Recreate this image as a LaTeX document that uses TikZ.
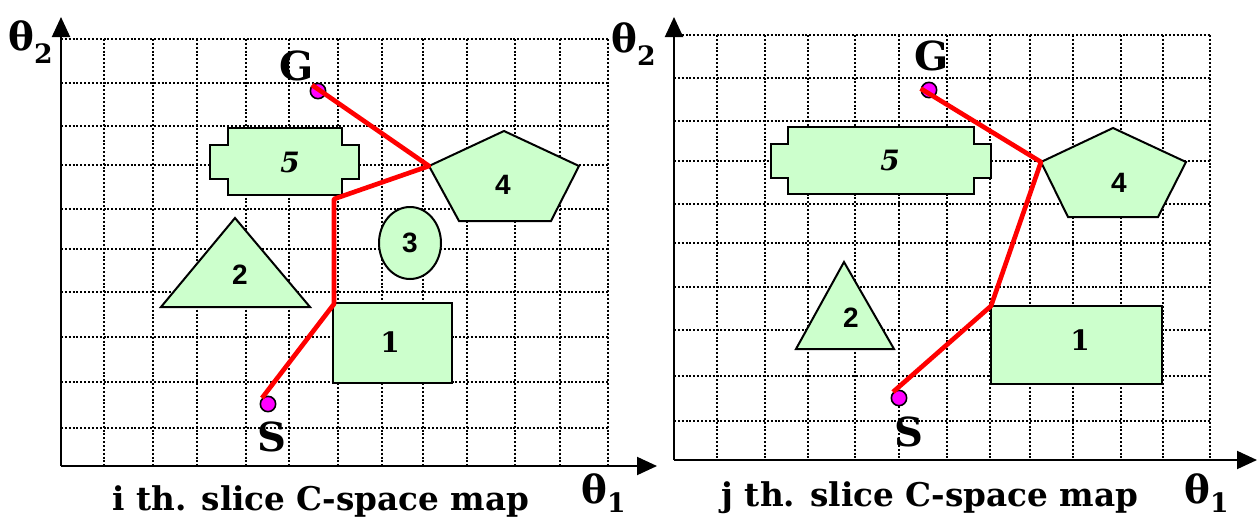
\documentclass[tikz,border=0pt]{standalone}
\usepackage{fontspec}
\setmainfont{DejaVu Serif}
\newfontfamily\sansb{Liberation Sans}
\usetikzlibrary{arrows.meta}
\definecolor{obgreen}{RGB}{204,255,204}
\definecolor{dotmag}{RGB}{255,0,255}
\newcommand{\thlab}[2]{{\fontsize{29}{29}\selectfont\bfseries θ}{\fontsize{20}{20}\selectfont\bfseries\raisebox{-#2}{#1}}}
\begin{document}
\begin{tikzpicture}[x=0.75pt,y=-0.75pt,
  gridline/.style={line width=1.7pt, dash pattern=on 1.5pt off 1.4pt},
  axisline/.style={line width=1.5pt, -{Triangle[length=15pt,width=13.5pt]}},
  obst/.style={draw=black, fill=obgreen, line width=1.5pt, line join=miter},
  redpath/.style={draw=red, line width=3.5pt, line join=round},
  pdot/.style={circle, draw=black, fill=dotmag, line width=1.2pt, minimum size=11.5pt, inner sep=0pt},
  numsans/.style={inner sep=0pt, font=\sansb\bfseries\fontsize{21}{21}\selectfont},
  numser/.style={inner sep=0pt, font=\bfseries\fontsize{21}{21}\selectfont},
  numit/.style={inner sep=0pt, font=\bfseries\itshape\fontsize{21}{21}\selectfont},
  gslab/.style={inner sep=0pt, anchor=base, font=\bfseries\fontsize{30}{30}\selectfont},
  caption/.style={inner sep=0pt, anchor=base, font=\bfseries\fontsize{24.5}{24.5}\selectfont},
  axlab/.style={inner sep=0pt, anchor=base west}]
\useasboundingbox (0,0) rectangle (1258,518);

% ---------------- left panel grid ----------------
\foreach \x in {104,153,197,246,289,338,382,423,467,515,560,608}
  \draw[gridline] (\x,39) -- (\x,466);
\foreach \y in {39,83,126,165,209,249,292,337,382,428}
  \draw[gridline] (61,\y) -- (608,\y);
\coordinate (oL) at (61,466);
\coordinate (yL) at (61,17);
\coordinate (xL) at (657,466);
\draw[axisline] (oL) -- (yL);
\draw[axisline] (oL) -- (xL);

% ---------------- right panel grid ----------------
\foreach \x in {717,765,808,855,899,947,990,1030,1073,1121,1163,1210}
  \draw[gridline] (\x,35) -- (\x,460);
\foreach \y in {35,78,121,161,204,243,287,330,376,421}
  \draw[gridline] (674,\y) -- (1210,\y);
\coordinate (oR) at (674,460);
\coordinate (yR) at (674,17);
\coordinate (xR) at (1257,460);
\draw[axisline] (oR) -- (yR);
\draw[axisline] (oR) -- (xR);

% ---------------- left obstacles ----------------
\draw[obst] (228,128) -- (342,128) -- (342,145) -- (359,145) -- (359,179) -- (342,179) -- (342,195) -- (228,195) -- (228,179) -- (210,179) -- (210,145) -- (228,145) -- cycle;
\node[numit] (n5L) at (290,162) {5};
\draw[obst] (235,218) -- (310,307) -- (161,307) -- cycle;
\node[numsans] (n2L) at (240,275) {2};
\draw[obst] (410,243) ellipse [x radius=31, y radius=36];
\node[numsans] (n3L) at (410,243) {3};
\coordinate (p4L) at (429,166);
\draw[obst] (504,131) -- (579,166) -- (551,221) -- (459,221) -- (p4L) -- cycle;
\node[numsans] (n4L) at (503,185) {4};
\draw[obst] (333,303) rectangle (452,383);
\node[numser] (n1L) at (390,342) {1};

% ---------------- right obstacles ----------------
\draw[obst] (788,127) -- (974,127) -- (974,144) -- (991,144) -- (991,178) -- (974,178) -- (974,194) -- (788,194) -- (788,178) -- (771,178) -- (771,144) -- (788,144) -- cycle;
\node[numit] (n5R) at (890,160) {5};
\draw[obst] (844,262) -- (894,349) -- (796,349) -- cycle;
\node[numsans] (n2R) at (851,318) {2};
\coordinate (p4R) at (1041,162);
\draw[obst] (1113,128) -- (1186,162) -- (1158,217) -- (1068,217) -- (p4R) -- cycle;
\node[numsans] (n4R) at (1119,183) {4};
\coordinate (r1R) at (991,306);
\draw[obst] (r1R) rectangle (1162,384);
\node[numser] (n1R) at (1080,340) {1};

% ---------------- start / goal ----------------
\node[pdot] (gL) at (318,91) {};
\node[pdot] (sL) at (268,404) {};
\node[pdot] (gR) at (929,90) {};
\node[pdot] (sR) at (899,398) {};

\coordinate (wL1) at (334,199);
\coordinate (wL2) at (334,304);
\draw[redpath] (gL.north west) -- (p4L) -- (wL1) -- (wL2) -- (sL.north west);
\draw[redpath] (gR.170) -- (p4R) -- (r1R) -- (sR.north west);

\node[gslab] (GL) at (297,80) {G};
\node[gslab] (SL) at (272,451) {S};
\node[gslab] (GR) at (932,70) {G};
\node[gslab] (SR) at (909,446) {S};

% ---------------- axis labels & captions ----------------
\node[axlab] (t2L) at (8,50) {\thlab{2}{10pt}};
\node[axlab] (t1L) at (581,503) {\thlab{1}{7pt}};
\node[axlab] (t2R) at (611,52) {\thlab{2}{10pt}};
\node[axlab] (t1R) at (1184,503) {\thlab{1}{7pt}};

\node[caption] (capL) at (321,510) {i th. slice C-space map};
\node[caption] (capR) at (930,506) {j th. slice C-space map};
\end{tikzpicture}
\end{document}
